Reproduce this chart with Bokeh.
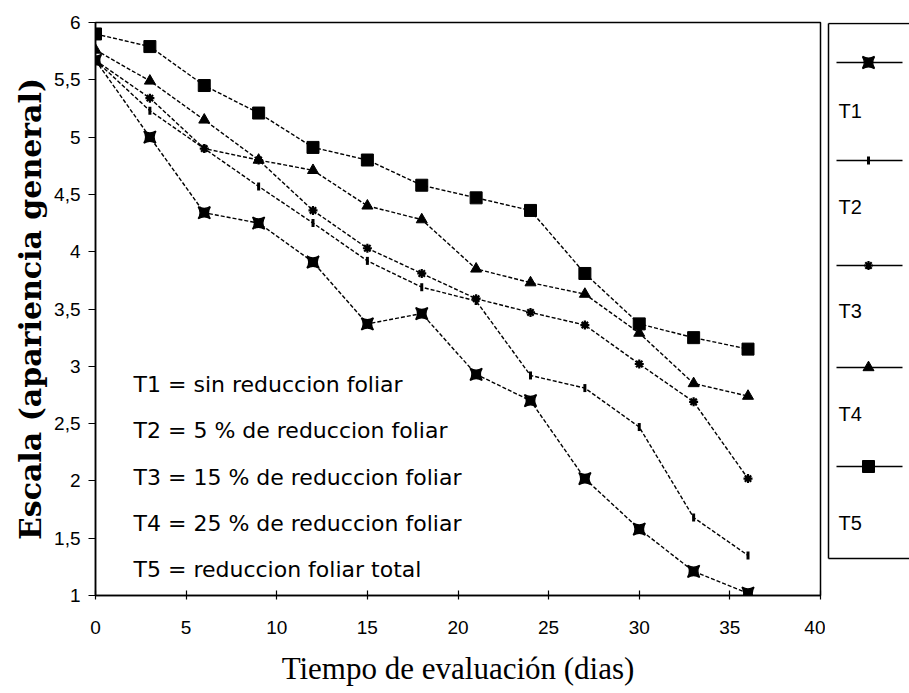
from bokeh.plotting import figure
from bokeh.models import Range1d, FixedTicker, Label
from bokeh.layouts import row
from bokeh.embed import file_html
from bokeh.resources import INLINE
import numpy as np

# ---- data ----
days = [0, 3, 6, 9, 12, 15, 18, 21, 24, 27, 30, 33, 36]
t1 = [5.67, 5.00, 4.34, 4.25, 3.91, 3.37, 3.46, 2.93, 2.70, 2.02, 1.58, 1.21, 1.02]
t2 = [5.67, 5.23, 4.90, 4.57, 4.25, 3.92, 3.69, 3.57, 2.92, 2.81, 2.47, 1.68, 1.35]
t3 = [5.67, 5.34, 4.90, 4.80, 4.36, 4.03, 3.81, 3.59, 3.47, 3.36, 3.02, 2.69, 2.02]
t4 = [5.76, 5.49, 5.15, 4.80, 4.71, 4.40, 4.28, 3.85, 3.73, 3.63, 3.29, 2.85, 2.74]
t5 = [5.90, 5.79, 5.45, 5.21, 4.91, 4.80, 4.58, 4.47, 4.36, 3.81, 3.37, 3.25, 3.15]
series_names = ["T1", "T2", "T3", "T4", "T5"]
descriptions = [
    "T1 = sin reduccion foliar",
    "T2 = 5 % de reduccion foliar",
    "T3 = 15 % de reduccion foliar",
    "T4 = 25 % de reduccion foliar",
    "T5 = reduccion foliar total",
]
x_ticks = [0, 5, 10, 15, 20, 25, 30, 35, 40]
y_ticks = [1, 1.5, 2, 2.5, 3, 3.5, 4, 4.5, 5, 5.5, 6]
y_tick_labels = ["1", "1,5", "2", "2,5", "3", "3,5", "4", "4,5", "5", "5,5", "6"]
x_title = "Tiempo de evaluación (dias)"
y_title = "Escala (apariencia general)"

series = [t1, t2, t3, t4, t5]
styles = [
    dict(marker="square_pin", size=12, angle=0.0, line_width=1.5),
    dict(marker="dash", size=8, angle=np.pi / 2, line_width=3),
    dict(marker="asterisk", size=9, angle=0.0, line_width=2.2),
    dict(marker="triangle", size=11, angle=0.0, line_width=1),
    dict(marker="square", size=12, angle=0.0, line_width=1),
]

TOP, BOTTOM = 22, 97
H = 692

p = figure(width=825, height=H, x_range=Range1d(0, 40), y_range=Range1d(1, 6),
           output_backend="svg", toolbar_location=None, title=None,
           min_border_left=95, min_border_right=5, min_border_top=TOP, min_border_bottom=BOTTOM)
p.grid.visible = False
p.outline_line_color = "black"
p.outline_line_width = 1.5
p.background_fill_color = "white"
p.border_fill_color = "white"

p.xaxis.ticker = FixedTicker(ticks=x_ticks)
p.yaxis.ticker = FixedTicker(ticks=y_ticks)
p.yaxis.major_label_overrides = {t: l for t, l in zip(y_ticks, y_tick_labels)}
for ax in (p.xaxis[0], p.yaxis[0]):
    ax.minor_tick_line_color = None
    ax.axis_line_color = "black"
    ax.axis_line_width = 1.5
    ax.major_tick_line_color = "black"
    ax.major_tick_line_width = 1.2
    ax.major_label_text_font = "Liberation Sans"
    ax.major_label_text_font_size = "19px"
    ax.major_label_text_color = "black"
    ax.axis_label_text_color = "black"
    ax.axis_label_text_font_style = "normal"

p.xaxis.major_tick_in = 5
p.xaxis.major_tick_out = 4
p.xaxis.major_label_standoff = 21
p.xaxis.axis_label = x_title
p.xaxis.axis_label_text_font = "Liberation Serif"
p.xaxis.axis_label_text_font_size = "31px"
p.xaxis.axis_label_standoff = 14

p.yaxis.major_tick_in = 0
p.yaxis.major_tick_out = 7
p.yaxis.major_label_standoff = 8
p.yaxis.axis_label = y_title
p.yaxis.axis_label_text_font = "DejaVu Serif"
p.yaxis.axis_label_text_font_style = "bold"
p.yaxis.axis_label_text_font_size = "30px"
p.yaxis.axis_label_standoff = 3

for vals, st in zip(series, styles):
    p.line(days, vals, line_color="black", line_width=1.4, line_dash="4 2")
    p.scatter(days, vals, marker=st["marker"], size=st["size"], angle=st["angle"],
              fill_color="black", line_color="black", line_width=st["line_width"])

# description block inside the plot
for i, txt in enumerate(descriptions):
    p.add_layout(Label(x=2.1, y=2.84 - i * 0.403, text=txt, text_font="DejaVu Sans",
                       text_font_size="22px", text_color="black", text_baseline="middle"))

# legend panel; its frame is aligned with the main frame, so data units equal page pixels
leg = figure(width=84, height=H, x_range=Range1d(825, 909), y_range=Range1d(H - BOTTOM, TOP),
             output_backend="svg", toolbar_location=None, title=None,
             x_axis_location=None, y_axis_location=None,
             min_border_left=0, min_border_right=0, min_border_top=TOP, min_border_bottom=BOTTOM)
leg.grid.visible = False
leg.outline_line_color = None
leg.background_fill_color = "white"
leg.border_fill_color = "white"
# open box: top, left and bottom edges (right edge lies beyond the page)
leg.multi_line([[828, 1000], [828, 828], [828, 1000]], [[23, 23], [23, 558], [558, 558]],
               line_color="black", line_width=1.5)

row_line_y = [62, 160, 265, 367, 466]
row_label_y = [110, 206, 310, 413, 522]
for name, st, ly, ty in zip(series_names, styles, row_line_y, row_label_y):
    leg.line([836, 902], [ly, ly], line_color="black", line_width=1.4)
    leg.scatter([868], [ly], marker=st["marker"], size=st["size"], angle=st["angle"],
                fill_color="black", line_color="black", line_width=st["line_width"])
    leg.add_layout(Label(x=838, y=ty, text=name, text_font="Liberation Sans", text_font_size="20px",
                         text_color="black", text_baseline="middle"))

layout = row(p, leg)
open("out.html", "w").write(file_html(layout, INLINE))
